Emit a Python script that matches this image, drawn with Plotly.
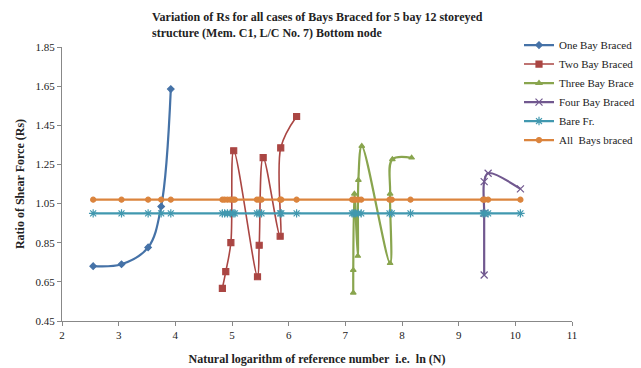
import plotly.graph_objects as go

# ---- data ----
one_x = [2.55, 3.05, 3.52, 3.75, 3.92]
one_y = [0.73, 0.74, 0.826, 1.035, 1.635]

two_x = [4.83, 4.89, 4.98, 5.03, 5.45, 5.48, 5.55, 5.85, 5.86, 6.14]
two_y = [0.617, 0.702, 0.85, 1.32, 0.676, 0.837, 1.285, 0.883, 1.335, 1.495]

three_x = [7.14, 7.14, 7.16, 7.22, 7.23, 7.29, 7.79, 7.79, 7.83, 8.17]
three_y = [0.594, 0.71, 1.10, 0.782, 1.17, 1.344, 0.745, 1.10, 1.276, 1.284]

four_x = [9.45, 9.45, 9.45, 9.52, 10.09]
four_y = [0.685, 1.0, 1.162, 1.205, 1.125]

base_x = [2.55, 3.05, 3.52, 3.75, 3.92,
          4.83, 4.87, 4.92, 4.97, 5.02, 5.05,
          5.44, 5.48, 5.52, 5.85, 5.87, 6.14,
          7.12, 7.15, 7.18, 7.23, 7.28, 7.78, 7.82, 8.15,
          9.43, 9.46, 9.52, 10.09]
bare_y = [1.0] * len(base_x)
all_y = [1.07] * len(base_x)

names = ["One Bay Braced", "Two Bay Braced", "Three Bay Brace",
         "Four Bay Braced", "Bare Fr.", "All  Bays braced"]
colors = ["#4572A7", "#AA4643", "#89A54E", "#71588F", "#4198AF", "#DB843D"]
symbols = ["diamond", "square", "triangle-up", "x-thin-open", "asterisk-open", "circle"]
xs = [one_x, two_x, three_x, four_x, base_x, base_x]
ys = [one_y, two_y, three_y, four_y, bare_y, all_y]
widths = [2.2, 1.6, 2.2, 2.2, 2.2, 2.2]
msizes = [5, 6, 5, 7, 7, 5]

fig = go.Figure()
for n, c, s, x, y, w, ms in zip(names, colors, symbols, xs, ys, widths, msizes):
    fig.add_trace(go.Scatter(
        x=x, y=y, name=n, mode="lines+markers",
        line=dict(color=c, width=w, shape="spline", smoothing=1.0),
        marker=dict(symbol=s, size=ms, color=c, line=dict(color=c, width=1.2)),
    ))

serif = "Liberation Serif"
fig.update_layout(
    width=641, height=368,
    margin=dict(l=62, r=69, t=47, b=47, autoexpand=False),
    paper_bgcolor="white", plot_bgcolor="white",
    font=dict(family=serif, size=11, color="#222"),
    legend=dict(
        x=(519 - 62) / 510, y=1.06, xanchor="left", yanchor="top",
        font=dict(family=serif, size=11, color="#222"),
        bgcolor="rgba(0,0,0,0)", tracegroupgap=0, itemwidth=30,
    ),
    showlegend=True,
    annotations=[dict(
        text="<b>Variation of Rs for all cases of Bays Braced for 5 bay 12 storeyed<br>structure (Mem. C1, L/C No. 7) Bottom node</b>",
        xref="paper", yref="paper", x=(150 - 62) / 510, y=(321 - 8) / 274,
        xanchor="left", yanchor="top", align="left", showarrow=False,
        font=dict(family=serif, size=12, color="#222"),
    )],
)
fig.update_xaxes(
    range=[2, 11], tick0=2, dtick=1, showgrid=False, zeroline=False,
    showline=True, linecolor="#888", linewidth=1,
    ticks="outside", ticklen=4, tickcolor="#888",
    tickfont=dict(family=serif, size=11, color="#222"),
    title=dict(text="<b>Natural logarithm of reference number  i.e.  ln (N)</b>",
               font=dict(family=serif, size=12, color="#222"), standoff=14),
)
fig.update_yaxes(
    range=[0.45, 1.85], tick0=0.45, dtick=0.2, tickformat=".2f",
    showgrid=False, zeroline=False,
    showline=True, linecolor="#888", linewidth=1,
    ticks="outside", ticklen=4, tickcolor="#888",
    tickfont=dict(family=serif, size=11, color="#222"),
    title=dict(text="<b>Ratio of Shear Force (Rs)</b>",
               font=dict(family=serif, size=12, color="#222"), standoff=8),
)

fig.write_html("out.html")
